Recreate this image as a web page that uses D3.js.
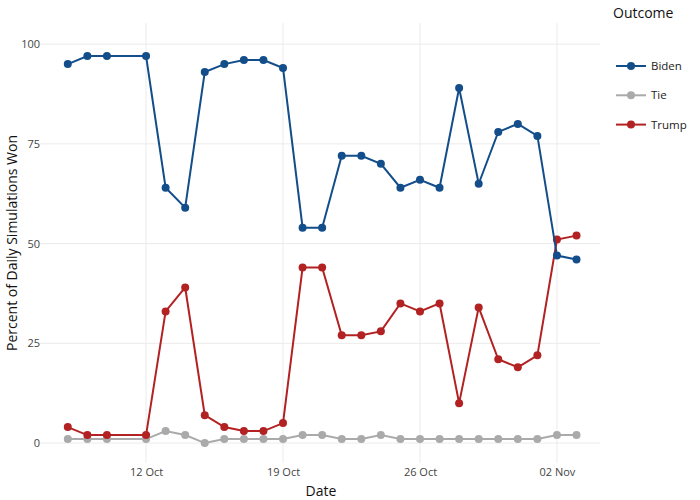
<!DOCTYPE html>
<html>
<head>
<meta charset="utf-8">
<script src="https://cdn.jsdelivr.net/npm/d3@7"></script>
<style>
  body { margin: 0; background: #fff; }
  text { font-family: "Open Sans", sans-serif; }
</style>
</head>
<body>
<div id="chart"></div>
<script>
// daily dates (no run on 11 Oct)
var dates = ["2020-10-08","2020-10-09","2020-10-10","2020-10-12","2020-10-13","2020-10-14",
  "2020-10-15","2020-10-16","2020-10-17","2020-10-18","2020-10-19","2020-10-20","2020-10-21",
  "2020-10-22","2020-10-23","2020-10-24","2020-10-25","2020-10-26","2020-10-27","2020-10-28",
  "2020-10-29","2020-10-30","2020-10-31","2020-11-01","2020-11-02","2020-11-03"];

var biden = [95,97,97,97,64,59,93,95,96,96,94,54,54,72,72,70,64,66,64,89,65,78,80,77,47,46];
var tie   = [1,1,1,1,3,2,0,1,1,1,1,2,2,1,1,2,1,1,1,1,1,1,1,1,2,2];
var trump = [4,2,2,2,33,39,7,4,3,3,5,44,44,27,27,28,35,33,35,10,34,21,19,22,51,52];

var outcomes = ["Biden", "Tie", "Trump"];
var colors = ["#134e8a", "#aaaaaa", "#b22222"];
var yTicks = [0, 25, 50, 75, 100];
var xTicks = ["2020-10-12", "2020-10-19", "2020-10-26", "2020-11-02"];

var series = [biden, tie, trump];

var outerWidth = 700, outerHeight = 500;
var plot = {left: 40, right: 600, top: 23, bottom: 463};

var parse = d3.utcParse("%Y-%m-%d");
var day = 864e5;
var oct12 = parse("2020-10-12").getTime();

var x = d3.scaleUtc()
    .domain([new Date(oct12 - 5.42 * day), new Date(oct12 + 23.2 * day)])
    .range([plot.left, plot.right]);

var y = d3.scaleLinear()
    .domain([-5, 105.3])
    .range([plot.bottom, plot.top]);

var svg = d3.select("#chart").append("svg")
    .attr("width", outerWidth)
    .attr("height", outerHeight);

// grid
svg.append("g").selectAll("line")
    .data(yTicks).enter().append("line")
    .attr("x1", plot.left).attr("x2", plot.right)
    .attr("y1", function(d) { return y(d); })
    .attr("y2", function(d) { return y(d); })
    .attr("stroke", "#ebebeb").attr("stroke-width", 1);

svg.append("g").selectAll("line")
    .data(xTicks).enter().append("line")
    .attr("x1", function(d) { return x(parse(d)); })
    .attr("x2", function(d) { return x(parse(d)); })
    .attr("y1", plot.top).attr("y2", plot.bottom)
    .attr("stroke", "#ebebeb").attr("stroke-width", 1);

// axes (labels only)
var yAxis = svg.append("g")
    .attr("transform", "translate(" + plot.left + ",0)")
    .call(d3.axisLeft(y).tickValues(yTicks).tickSize(0).tickPadding(0));
yAxis.select(".domain").remove();
yAxis.selectAll("text").attr("font-size", 11).attr("fill", "#444")
    .attr("font-family", "Open Sans, sans-serif");

var xAxis = svg.append("g")
    .attr("transform", "translate(0," + plot.bottom + ")")
    .call(d3.axisBottom(x).tickValues(xTicks.map(parse))
      .tickFormat(d3.utcFormat("%d %b")).tickSize(0).tickPadding(5));
xAxis.select(".domain").remove();
xAxis.selectAll("text").attr("font-size", 11).attr("fill", "#444")
    .attr("font-family", "Open Sans, sans-serif");

svg.append("text")
    .attr("x", (plot.left + plot.right) / 2 + 1)
    .attr("y", 496)
    .attr("text-anchor", "middle")
    .attr("font-size", 14).attr("fill", "#111")
    .text("Date");

svg.append("text")
    .attr("transform", "translate(17," + ((plot.top + plot.bottom) / 2) + ") rotate(-90)")
    .attr("text-anchor", "middle")
    .attr("font-size", 14).attr("fill", "#111")
    .text("Percent of Daily Simulations Won");

// lines and points
var line = d3.line()
    .x(function(d, i) { return x(parse(dates[i])); })
    .y(function(d) { return y(d); });

var order = [1, 2, 0]; // draw tie, trump, then biden on top
order.forEach(function(k) {
  var g = svg.append("g");
  g.append("path")
      .datum(series[k])
      .attr("fill", "none")
      .attr("stroke", colors[k])
      .attr("stroke-width", 2)
      .attr("d", line);
  g.selectAll("circle")
      .data(series[k]).enter().append("circle")
      .attr("cx", function(d, i) { return x(parse(dates[i])); })
      .attr("cy", function(d) { return y(d); })
      .attr("r", 4)
      .attr("fill", colors[k]);
});

// legend
var legend = svg.append("g");
legend.append("text")
    .attr("x", 613).attr("y", 18)
    .attr("font-size", 14).attr("fill", "#111")
    .text("Outcome");

var items = legend.selectAll("g.item")
    .data(outcomes).enter().append("g")
    .attr("class", "item")
    .attr("transform", function(d, i) { return "translate(0," + (66 + i * 29.3) + ")"; });
items.append("line")
    .attr("x1", 616).attr("x2", 646)
    .attr("stroke", function(d, i) { return colors[i]; })
    .attr("stroke-width", 2);
items.append("circle")
    .attr("cx", 631).attr("r", 4)
    .attr("fill", function(d, i) { return colors[i]; });
items.append("text")
    .attr("x", 651).attr("dy", "0.35em")
    .attr("font-size", 11.5).attr("fill", "#222")
    .text(function(d) { return d; });
</script>
</body>
</html>
